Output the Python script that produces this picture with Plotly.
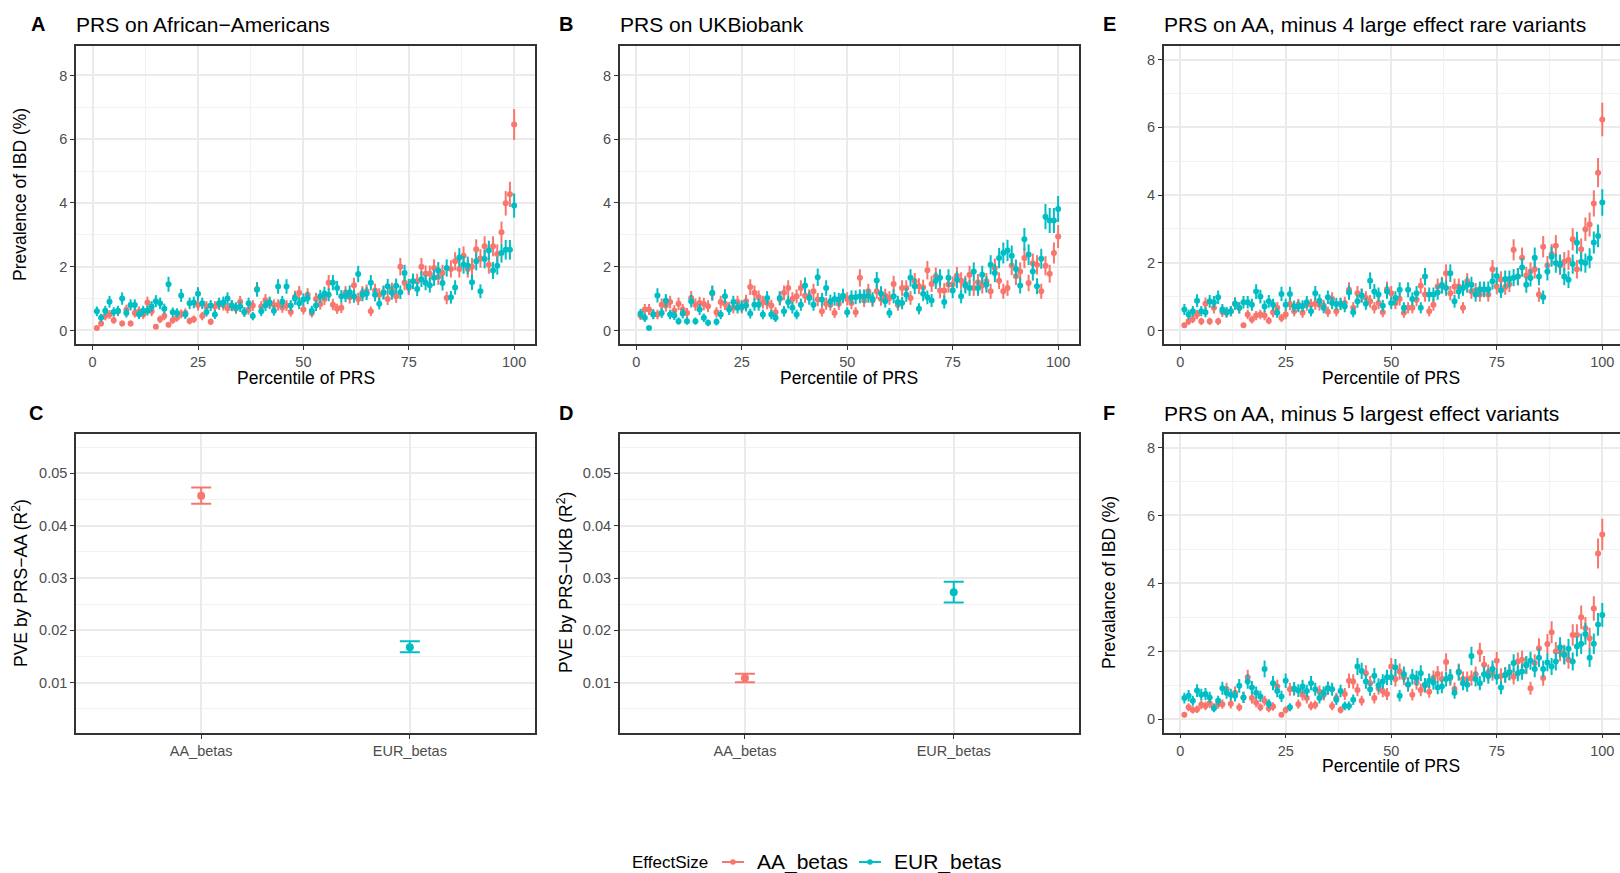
import numpy as np
import plotly.graph_objects as go

FONT = "Liberation Sans, Arial, sans-serif"
RED = "#F8766D"
CYAN = "#00BFC4"
W, H = 1620, 873

percentile = list(range(1, 101))
effect_sizes = ["AA_betas", "EUR_betas"]
legend_title = "EffectSize"

# Panel A: PRS on African-Americans (prevalence %, by percentile)
A_AA = [0.08, 0.22, 0.45, 0.50, 0.32, 0.60, 0.22, 0.65, 0.22, 0.55,
        0.60, 0.50, 0.88, 0.60, 0.12, 0.35, 0.45, 0.18, 0.32, 0.40,
        0.52, 0.55, 0.30, 0.35, 0.80, 0.45, 0.75, 0.27, 0.75, 0.82,
        0.80, 0.70, 0.78, 0.68, 0.90, 0.58, 0.65, 0.78, 1.30, 0.75,
        0.95, 0.85, 0.80, 0.80, 0.72, 0.78, 0.58, 1.05, 1.18, 0.66,
        1.12, 0.55, 0.99, 0.83, 0.99, 1.50, 0.81, 0.68, 0.71, 1.18,
        1.04, 1.42, 0.99, 1.18, 1.23, 0.60, 1.25, 1.12, 1.20, 0.99,
        1.28, 1.07, 2.00, 1.50, 1.33, 1.54, 1.54, 2.00, 1.78, 1.78,
        1.96, 1.68, 1.80, 1.02, 1.93, 2.17, 1.93, 2.34, 1.93, 2.00,
        2.55, 2.26, 2.64, 2.06, 2.64, 2.40, 3.08, 3.99, 4.27, 6.46]
A_EUR = [0.60, 0.40, 0.62, 0.90, 0.58, 0.62, 1.00, 0.55, 0.80, 0.80,
         0.50, 0.62, 0.62, 0.75, 0.92, 0.85, 0.68, 1.45, 0.57, 0.55,
         1.10, 0.50, 0.85, 0.88, 1.15, 0.85, 0.58, 0.78, 0.50, 0.85,
         0.88, 1.00, 0.78, 0.72, 0.75, 0.58, 0.85, 0.45, 1.28, 0.60,
         0.78, 0.88, 0.62, 1.38, 0.90, 1.38, 0.78, 1.00, 0.85, 0.97,
         1.02, 0.62, 0.78, 1.07, 1.16, 1.12, 1.50, 1.33, 1.07, 1.09,
         1.20, 1.07, 1.77, 1.12, 1.16, 1.50, 1.12, 0.84, 1.18, 1.39,
         1.18, 1.40, 1.20, 1.80, 1.39, 1.54, 1.30, 1.61, 1.50, 1.42,
         1.65, 1.88, 1.49, 1.96, 1.04, 1.35, 2.29, 2.06, 2.04, 1.51,
         2.17, 1.23, 2.24, 2.51, 1.88, 2.03, 2.43, 2.53, 2.53, 3.92]

# Panel B: PRS on UKBiobank
B_AA = [0.47, 0.66, 0.66, 0.52, 0.50, 0.81, 0.78, 0.89, 0.62, 0.84,
        0.66, 0.55, 1.02, 0.81, 0.86, 0.83, 0.76, 1.16, 0.57, 0.89,
        0.84, 0.71, 0.71, 0.89, 0.71, 0.92, 1.36, 1.18, 1.04, 0.89,
        0.86, 0.78, 0.57, 0.99, 1.18, 1.33, 0.99, 1.07, 1.33, 1.09,
        1.07, 1.23, 0.97, 0.60, 0.84, 0.81, 0.55, 0.84, 1.07, 0.99,
        0.86, 0.57, 1.65, 0.94, 1.23, 0.94, 1.23, 0.99, 1.09, 1.02,
        1.46, 0.81, 1.33, 1.33, 1.02, 1.54, 1.39, 1.35, 1.89, 1.46,
        1.70, 1.25, 1.25, 1.44, 1.44, 1.72, 1.56, 1.46, 1.75, 1.33,
        1.51, 1.41, 1.54, 1.23, 1.96, 1.56, 1.23, 1.33, 2.04, 1.70,
        1.85, 2.27, 1.49, 2.11, 2.06, 1.23, 2.03, 1.78, 2.43, 2.95]
B_EUR = [0.53, 0.40, 0.08, 0.50, 1.10, 0.55, 0.94, 0.50, 0.47, 0.29,
         0.53, 0.29, 0.92, 0.29, 0.66, 0.40, 0.24, 1.18, 0.27, 0.50,
         1.07, 0.66, 0.89, 0.71, 0.76, 0.78, 0.53, 0.81, 0.81, 0.50,
         1.02, 0.50, 0.40, 1.02, 0.60, 0.89, 0.71, 0.50, 0.81, 1.41,
         1.02, 0.81, 1.67, 0.97, 1.33, 0.92, 0.99, 0.97, 1.09, 0.57,
         1.04, 1.04, 1.07, 1.07, 1.09, 0.99, 1.57, 1.16, 0.92, 0.55,
         1.07, 0.89, 0.86, 1.12, 1.65, 1.39, 0.68, 1.15, 1.04, 0.94,
         1.56, 1.65, 0.89, 1.65, 1.25, 1.59, 1.07, 1.41, 1.33, 1.85,
         1.33, 1.75, 1.44, 2.06, 1.80, 2.27, 2.43, 2.51, 2.34, 1.93,
         1.41, 2.86, 2.38, 1.85, 1.39, 2.25, 3.57, 3.45, 3.45, 3.81]

# Panel E: PRS on AA, minus 4 large effect rare variants
E_AA = [0.15, 0.27, 0.34, 0.47, 0.27, 0.79, 0.27, 0.67, 0.27, 0.55,
        0.52, 0.57, 0.79, 0.67, 0.15, 0.47, 0.32, 0.44, 0.47, 0.44,
        0.29, 0.54, 0.67, 0.37, 0.47, 0.78, 0.57, 0.76, 0.52, 0.76,
        0.76, 0.79, 0.76, 0.73, 0.55, 0.93, 0.57, 0.79, 0.81, 1.20,
        0.67, 1.10, 1.03, 0.96, 0.86, 0.67, 0.81, 0.54, 1.22, 1.10,
        0.81, 0.93, 0.52, 0.67, 0.67, 0.91, 1.32, 1.06, 0.57, 0.76,
        1.30, 1.35, 1.69, 1.10, 1.30, 1.30, 0.67, 1.45, 1.15, 1.18,
        1.06, 1.20, 1.06, 1.81, 1.30, 1.50, 1.28, 1.37, 2.38, 1.59,
        2.15, 1.62, 1.74, 1.81, 1.06, 2.47, 1.92, 2.25, 2.50, 1.92,
        2.03, 2.08, 2.69, 1.81, 2.40, 2.99, 3.13, 3.75, 4.66, 6.23]
E_EUR = [0.62, 0.47, 0.57, 0.88, 0.57, 0.54, 0.86, 0.83, 0.98, 0.62,
         0.54, 0.57, 0.79, 0.67, 0.83, 0.83, 0.76, 1.15, 1.00, 0.71,
         0.86, 0.76, 0.52, 1.08, 0.76, 1.08, 0.71, 0.71, 0.72, 0.83,
         0.57, 1.10, 0.88, 0.67, 0.98, 0.81, 0.78, 0.78, 0.71, 1.12,
         0.54, 0.86, 1.03, 0.79, 1.47, 1.15, 1.06, 0.73, 1.15, 0.81,
         0.96, 1.20, 0.67, 1.20, 0.93, 1.10, 0.67, 1.59, 1.06, 1.06,
         1.12, 1.32, 1.25, 1.69, 0.86, 1.15, 1.25, 1.35, 1.35, 1.06,
         1.22, 1.22, 1.22, 1.45, 1.61, 1.18, 1.52, 1.52, 1.56, 1.59,
         1.86, 1.35, 1.55, 2.15, 1.59, 0.98, 1.74, 2.18, 1.99, 1.96,
         1.59, 1.50, 1.96, 2.59, 2.03, 1.99, 2.13, 2.60, 2.79, 3.78]

# Panel F: PRS on AA, minus 5 largest effect variants
F_AA = [0.13, 0.35, 0.27, 0.29, 0.42, 0.39, 0.47, 0.35, 0.44, 0.44,
        0.88, 0.45, 0.78, 0.35, 0.64, 1.23, 0.62, 0.49, 0.35, 0.54,
        0.32, 0.37, 0.96, 0.13, 0.27, 0.88, 0.88, 0.44, 0.72, 0.62,
        0.39, 0.42, 0.81, 0.72, 0.91, 0.39, 0.62, 0.27, 0.74, 1.13,
        1.11, 0.86, 0.54, 1.35, 1.06, 0.62, 0.91, 0.83, 0.74, 1.55,
        1.18, 1.40, 1.23, 1.01, 0.72, 1.08, 0.86, 0.98, 0.81, 1.21,
        1.33, 1.18, 1.68, 1.21, 0.89, 1.40, 1.18, 1.18, 1.21, 1.32,
        1.97, 1.60, 1.37, 1.37, 1.72, 1.27, 1.30, 1.38, 1.25, 1.70,
        1.75, 1.58, 0.91, 1.65, 2.09, 1.21, 2.21, 2.56, 1.99, 1.99,
        1.91, 1.75, 2.48, 2.48, 3.00, 2.68, 2.38, 3.26, 4.88, 5.44]
F_EUR = [0.62, 0.69, 0.54, 0.84, 0.72, 0.74, 0.64, 0.32, 0.54, 0.91,
         0.78, 0.72, 0.69, 0.98, 0.64, 1.11, 0.93, 0.78, 0.67, 1.48,
         0.45, 1.06, 0.83, 0.67, 1.13, 0.35, 0.90, 0.84, 0.96, 0.83,
         1.06, 0.88, 0.62, 0.78, 0.91, 0.88, 0.57, 0.83, 0.39, 0.39,
         0.57, 1.55, 1.42, 1.11, 0.88, 1.28, 1.00, 1.11, 1.23, 1.23,
         1.52, 0.69, 1.32, 1.03, 1.25, 1.21, 1.35, 1.01, 1.13, 1.08,
         0.93, 0.96, 1.18, 1.25, 0.78, 1.37, 1.06, 1.01, 1.86, 1.18,
         1.06, 1.32, 1.27, 1.48, 1.25, 0.93, 1.30, 1.38, 1.65, 1.35,
         1.40, 1.60, 1.72, 1.48, 1.81, 1.48, 1.67, 1.55, 1.70, 2.12,
         1.89, 2.07, 1.70, 2.14, 2.22, 2.51, 1.81, 2.22, 2.79, 3.07]

# approximate individuals per percentile bin (used for binomial standard errors)
N_PER_BIN = {"A": 2600, "B": 2200, "E": 2400, "F": 2400}

# Panels C and D: PVE (R^2) with intervals
C_pve = [0.0457, 0.0168]
C_low = [0.0442, 0.0158]
C_high = [0.0473, 0.0179]
D_pve = [0.0109, 0.0273]
D_low = [0.0101, 0.0253]
D_high = [0.0117, 0.0293]


def se(vals, n):
    q = np.array(vals) / 100.0
    return list(100.0 * np.sqrt(q * (1 - q) / n))


def px(x):
    return x / W


def py(y):
    return 1 - y / H


fig = go.Figure()

panels = [("A", A_AA, A_EUR, "x", "y"), ("B", B_AA, B_EUR, "x2", "y2"),
          ("E", E_AA, E_EUR, "x3", "y3"), ("F", F_AA, F_EUR, "x6", "y6")]
for key, aa, eur, xa, ya in panels:
    for vals, col, name in [(aa, RED, "AA_betas"), (eur, CYAN, "EUR_betas")]:
        fig.add_trace(go.Scatter(
            x=percentile, y=vals, mode="markers", name=name, showlegend=False,
            marker=dict(color=col, size=6),
            error_y=dict(type="data", array=se(vals, N_PER_BIN[key]),
                         color=col, thickness=2, width=0),
            xaxis=xa, yaxis=ya))

for pve, lo, hi, xa, ya in [(C_pve, C_low, C_high, "x4", "y4"),
                            (D_pve, D_low, D_high, "x5", "y5")]:
    for i, col in enumerate([RED, CYAN]):
        fig.add_trace(go.Scatter(
            x=[i + 1], y=[pve[i]], mode="markers", showlegend=False,
            name=effect_sizes[i], marker=dict(color=col, size=8),
            error_y=dict(type="data", array=[hi[i] - pve[i]],
                         arrayminus=[pve[i] - lo[i]], color=col,
                         thickness=2, width=10),
            xaxis=xa, yaxis=ya))

common = dict(showline=True, linecolor="#333333", linewidth=1.5, mirror=True,
              ticks="outside", ticklen=4, tickcolor="#333333", tickwidth=1.2,
              gridcolor="#EBEBEB", gridwidth=1.6, zeroline=False,
              tickfont=dict(size=14.5, color="#4D4D4D", family=FONT))
minor_x = dict(dtick=12.5, tick0=0, showgrid=True, gridcolor="#F2F2F2", gridwidth=0.9)
minor_y = dict(dtick=1, tick0=0, showgrid=True, gridcolor="#F2F2F2", gridwidth=0.9)

top_dom = [py(344), py(46)]
bot_dom = [py(733), py(433.5)]
left_dom = [px(76), px(535)]
mid_dom = [px(619.7), px(1079)]
right_dom = [px(1163.7), 1.0]

layout = dict(
    width=W, height=H, margin=dict(l=0, r=0, t=0, b=0, autoexpand=False),
    paper_bgcolor="white", plot_bgcolor="white", showlegend=False,
    font=dict(family=FONT, color="black"),
)
pct_x = dict(range=[-3.95, 104.95], tickvals=[0, 25, 50, 75, 100], minor=minor_x, **common)
layout["xaxis"] = dict(domain=left_dom, anchor="y", **pct_x)
layout["yaxis"] = dict(domain=top_dom, anchor="x", range=[-0.425, 8.925], tickvals=[0, 2, 4, 6, 8], minor=minor_y, **common)
layout["xaxis2"] = dict(domain=mid_dom, anchor="y2", **pct_x)
layout["yaxis2"] = dict(domain=top_dom, anchor="x2", range=[-0.425, 8.925], tickvals=[0, 2, 4, 6, 8], minor=minor_y, **common)
pct_x3 = dict(pct_x)
pct_x3["range"] = [-3.9, 104.2]
layout["xaxis3"] = dict(domain=right_dom, anchor="y3", **pct_x3)
layout["yaxis3"] = dict(domain=top_dom, anchor="x3", range=[-0.4, 8.4], tickvals=[0, 2, 4, 6, 8], minor=minor_y, **common)
layout["xaxis6"] = dict(domain=right_dom, anchor="y6", **pct_x3)
layout["yaxis6"] = dict(domain=[py(732.7), py(434)], anchor="x6", range=[-0.4, 8.4], tickvals=[0, 2, 4, 6, 8], minor=minor_y, **common)

cat_x = dict(range=[0.4, 2.6], tickvals=[1, 2], ticktext=effect_sizes, **common)
pve_y = dict(range=[0.0004, 0.0576], tickvals=[0.01, 0.02, 0.03, 0.04, 0.05],
             ticktext=["0.01", "0.02", "0.03", "0.04", "0.05"],
             minor=dict(dtick=0.005, tick0=0, showgrid=True, gridcolor="#F2F2F2", gridwidth=0.9), **common)
layout["xaxis4"] = dict(domain=left_dom, anchor="y4", **cat_x)
layout["yaxis4"] = dict(domain=bot_dom, anchor="x4", **pve_y)
layout["xaxis5"] = dict(domain=mid_dom, anchor="y5", **cat_x)
layout["yaxis5"] = dict(domain=bot_dom, anchor="x5", **pve_y)

fig.update_layout(**layout)


def ann(text, x, y, size, xanchor="left", bold=False, angle=0, color="black"):
    fig.add_annotation(text=("<b>%s</b>" % text) if bold else text,
                       x=px(x), y=py(y), xref="paper", yref="paper",
                       xanchor=xanchor, yanchor="middle", showarrow=False,
                       textangle=angle, font=dict(size=size, family=FONT, color=color))


TOP_Y, BOT_Y = 24, 413
# panel letters
ann("A", 29, TOP_Y, 20, bold=True)
ann("B", 557, TOP_Y, 20, bold=True)
ann("E", 1101, TOP_Y, 20, bold=True)
ann("C", 27, BOT_Y, 20, bold=True)
ann("D", 557, BOT_Y, 20, bold=True)
ann("F", 1101, BOT_Y, 20, bold=True)
# titles
ann("PRS on African\u2212Americans", 74, TOP_Y, 21)
ann("PRS on UKBiobank", 618, TOP_Y, 21)
ann("PRS on AA, minus 4 large effect rare variants", 1162, TOP_Y, 21)
ann("PRS on AA, minus 5 largest effect variants", 1162, BOT_Y, 21)
# axis titles
ann("Percentile of PRS", 305.5, 378, 17.5, xanchor="center")
ann("Percentile of PRS", 849, 378, 17.5, xanchor="center")
ann("Percentile of PRS", 1391, 378, 17.5, xanchor="center")
ann("Percentile of PRS", 1391, 766, 17.5, xanchor="center")
ann("Prevalence of IBD (%)", 20, 195, 17.5, xanchor="center", angle=-90)
ann("Prevalance of IBD (%)", 1109, 583, 17.5, xanchor="center", angle=-90)
ann("PVE by PRS\u2212AA (R<sup>2</sup>)", 20, 583, 17.5, xanchor="center", angle=-90)
ann("PVE by PRS\u2212UKB (R<sup>2</sup>)", 565, 583, 17.5, xanchor="center", angle=-90)

# legend (drawn manually so it does not push the panel margins)
LEG_Y = 862
ann(legend_title, 630, LEG_Y, 17)
for (x0, x1, tx), col, name in [((722, 744, 755), RED, effect_sizes[0]),
                                ((859, 881, 892), CYAN, effect_sizes[1])]:
    fig.add_shape(type="line", xref="paper", yref="paper",
                  x0=px(x0), x1=px(x1), y0=py(LEG_Y), y1=py(LEG_Y),
                  line=dict(color=col, width=2))
    cx = (x0 + x1) / 2
    fig.add_shape(type="circle", xref="paper", yref="paper",
                  x0=px(cx - 2.8), x1=px(cx + 2.8), y0=py(LEG_Y + 2.8), y1=py(LEG_Y - 2.8),
                  fillcolor=col, line=dict(width=0))
    ann(name, tx, LEG_Y, 21)

fig.write_html("out.html")
